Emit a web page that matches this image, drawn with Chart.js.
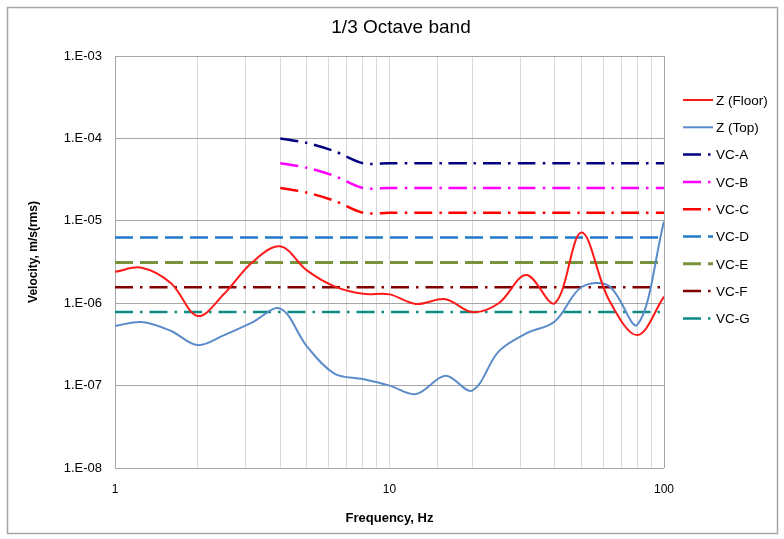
<!DOCTYPE html>
<html>
<head>
<meta charset="utf-8">
<title>1/3 Octave band</title>
<script src="https://cdn.jsdelivr.net/npm/chart.js@4"></script>
<style>
  html, body { margin: 0; padding: 0; background: #fff; }
  #chart { display: block; }
</style>
</head>
<body>
<canvas id="chart" width="784" height="539"></canvas>
<script>
// 1/3 octave band centre frequencies, Hz
const freqs = [1, 1.25, 1.6, 2, 2.5, 3.15, 4, 5, 6.3, 8, 10, 12.5, 16, 20, 25, 31.5, 40, 50, 63, 80, 100];

// measured velocity, m/s(rms)
const zFloor = [2.4e-6, 2.7e-6, 1.75e-6, 7.0e-7, 1.3e-6, 3.1e-6, 4.9e-6, 2.5e-6, 1.6e-6, 1.3e-6, 1.28e-6,
  9.8e-7, 1.12e-6, 7.8e-7, 1.0e-6, 2.2e-6, 1.0e-6, 7.2e-6, 1.1e-6, 4.1e-7, 1.2e-6];
const zTop = [5.3e-7, 5.9e-7, 4.6e-7, 3.1e-7, 4.1e-7, 5.8e-7, 8.6e-7, 3.0e-7, 1.4e-7, 1.2e-7, 1.0e-7,
  7.9e-8, 1.32e-7, 8.7e-8, 2.6e-7, 4.3e-7, 6.0e-7, 1.56e-6, 1.62e-6, 5.5e-7, 9.8e-6];

// VC criteria (A-C start at 4 Hz)
const vcA = [null, null, null, null, null, null, 1e-4, 8.8e-5, 7.0e-5, 5.0e-5, 5e-5, 5e-5, 5e-5, 5e-5, 5e-5, 5e-5, 5e-5, 5e-5, 5e-5, 5e-5, 5e-5];
const vcB = [null, null, null, null, null, null, 5e-5, 4.4e-5, 3.5e-5, 2.5e-5, 2.5e-5, 2.5e-5, 2.5e-5, 2.5e-5, 2.5e-5, 2.5e-5, 2.5e-5, 2.5e-5, 2.5e-5, 2.5e-5, 2.5e-5];
const vcC = [null, null, null, null, null, null, 2.5e-5, 2.2e-5, 1.75e-5, 1.25e-5, 1.25e-5, 1.25e-5, 1.25e-5, 1.25e-5, 1.25e-5, 1.25e-5, 1.25e-5, 1.25e-5, 1.25e-5, 1.25e-5, 1.25e-5];
const vcD = [6.25e-6, 6.25e-6, 6.25e-6, 6.25e-6, 6.25e-6, 6.25e-6, 6.25e-6, 6.25e-6, 6.25e-6, 6.25e-6, 6.25e-6, 6.25e-6, 6.25e-6, 6.25e-6, 6.25e-6, 6.25e-6, 6.25e-6, 6.25e-6, 6.25e-6, 6.25e-6, 6.25e-6];
const vcE = [3.12e-6, 3.12e-6, 3.12e-6, 3.12e-6, 3.12e-6, 3.12e-6, 3.12e-6, 3.12e-6, 3.12e-6, 3.12e-6, 3.12e-6, 3.12e-6, 3.12e-6, 3.12e-6, 3.12e-6, 3.12e-6, 3.12e-6, 3.12e-6, 3.12e-6, 3.12e-6, 3.12e-6];
const vcF = [1.56e-6, 1.56e-6, 1.56e-6, 1.56e-6, 1.56e-6, 1.56e-6, 1.56e-6, 1.56e-6, 1.56e-6, 1.56e-6, 1.56e-6, 1.56e-6, 1.56e-6, 1.56e-6, 1.56e-6, 1.56e-6, 1.56e-6, 1.56e-6, 1.56e-6, 1.56e-6, 1.56e-6];
const vcG = [7.8e-7, 7.8e-7, 7.8e-7, 7.8e-7, 7.8e-7, 7.8e-7, 7.8e-7, 7.8e-7, 7.8e-7, 7.8e-7, 7.8e-7, 7.8e-7, 7.8e-7, 7.8e-7, 7.8e-7, 7.8e-7, 7.8e-7, 7.8e-7, 7.8e-7, 7.8e-7, 7.8e-7];

const yTicks = [1e-8, 1e-7, 1e-6, 1e-5, 1e-4, 1e-3];
const xLabels = [1, 10, 100];

const FONT = '"Liberation Sans", Arial, sans-serif';
const dashDot = [18, 7, 2.5, 7];
const longDash = [18, 7];

const puntos = (serie) => freqs
  .map((f, i) => ({ x: f, y: serie[i] }))
  .filter((p) => p.y !== null);

const linea = (label, serie, color, width, dash, tension) => ({
  label,
  data: puntos(serie),
  borderColor: color,
  backgroundColor: color,
  borderWidth: width,
  borderDash: dash,
  pointRadius: 0,
  tension,
  fill: false,
  xAxisID: 'x',
  yAxisID: 'y',
});

const datasets = [
  linea('Z (Floor)', zFloor, '#ff1a1a', 2, [], 0.35),
  linea('Z (Top)', zTop, '#5b8cc9', 2, [], 0.35),
  linea('VC-A', vcA, '#000080', 2.5, dashDot, 0.3),
  linea('VC-B', vcB, '#ff00ff', 2.5, dashDot, 0.3),
  linea('VC-C', vcC, '#ff0000', 2.5, dashDot, 0.3),
  linea('VC-D', vcD, '#1f78c8', 2.5, longDash, 0),
  linea('VC-E', vcE, '#77933c', 3, longDash, 0),
  linea('VC-F', vcF, '#800000', 2.5, dashDot, 0),
  linea('VC-G', vcG, '#0f8a84', 2.5, dashDot, 0),
];

// legend on the right + white background + outer chart frame
const marco = {
  id: 'marco',
  beforeDraw(chart) {
    const ctx = chart.ctx;
    ctx.save();
    ctx.fillStyle = '#ffffff';
    ctx.fillRect(0, 0, chart.width, chart.height);
    ctx.restore();
  },
  afterDraw(chart) {
    const ctx = chart.ctx;
    const x0 = chart.chartArea.right + 19;
    ctx.save();
    chart.data.datasets.forEach((ds, i) => {
      const y = 100 + i * 27.3;
      ctx.strokeStyle = ds.borderColor;
      ctx.lineWidth = ds.borderWidth;
      ctx.setLineDash(ds.borderDash || []);
      ctx.beginPath();
      ctx.moveTo(x0, y);
      ctx.lineTo(x0 + 30, y);
      ctx.stroke();
      ctx.setLineDash([]);
      ctx.fillStyle = '#000';
      ctx.font = '13.5px ' + FONT;
      ctx.textBaseline = 'middle';
      ctx.fillText(ds.label, x0 + 33, y + 1);
    });
    ctx.strokeStyle = '#a6a6a6';
    ctx.lineWidth = 1.5;
    ctx.strokeRect(7.5, 7.5, 770, 526);
    ctx.restore();
  },
};

const config = {
  type: 'line',
  data: { datasets },
  options: {
    responsive: false,
    devicePixelRatio: 1,
    animation: false,
    layout: { padding: { left: 18, right: 0, top: 0, bottom: 0 } },
    plugins: {
      legend: { display: false },
      tooltip: { enabled: false },
      title: {
        display: true,
        text: '1/3 Octave band',
        color: '#000',
        font: { family: FONT, size: 19, weight: 'normal' },
        padding: { top: 16.6, bottom: 16.6 },
      },
    },
    scales: {
      x: {
        type: 'logarithmic',
        position: 'bottom',
        min: 1,
        max: 100,
        afterFit: (scale) => { scale.height = 71; },
        border: { display: false },
        grid: {
          drawTicks: false,
          color: (c) => (c.tick && (c.tick.value === 1 || c.tick.value === 100) ? '#a6a6a6' : '#d9d9d9'),
          lineWidth: 1,
        },
        ticks: {
          autoSkip: false,
          maxRotation: 0,
          padding: 14,
          color: '#000',
          font: { family: FONT, size: 12 },
          callback: (v) => (xLabels.includes(v) ? String(v) : ''),
        },
        title: {
          display: true,
          text: 'Frequency, Hz',
          color: '#000',
          font: { family: FONT, size: 13, weight: 'bold' },
          padding: { top: 0, bottom: 13 },
        },
      },
      y: {
        type: 'logarithmic',
        position: 'left',
        min: 1e-8,
        max: 1e-3,
        afterFit: (scale) => { scale.width = 97; },
        afterBuildTicks: (scale) => { scale.ticks = yTicks.map((v) => ({ value: v })); },
        border: { display: false },
        grid: { drawTicks: false, color: '#a6a6a6', lineWidth: 1 },
        ticks: {
          padding: 13,
          color: '#000',
          font: { family: FONT, size: 13 },
          callback: (v) => '1.E-' + String(Math.round(-Math.log10(v))).padStart(2, '0'),
        },
        title: {
          display: true,
          text: '      Velocity, m/s(rms)',
          color: '#000',
          font: { family: FONT, size: 12, weight: 'bold' },
          padding: { top: 8.8, bottom: 0 },
        },
      },
      // empty space on the right for the legend
      y2: {
        type: 'linear',
        position: 'right',
        afterFit: (scale) => { scale.width = 120; },
        border: { display: false },
        grid: { display: false },
        ticks: { display: false },
      },
    },
  },
  plugins: [marco],
};

const grafico = new Chart(document.querySelector('#chart'), config);
</script>
</body>
</html>
